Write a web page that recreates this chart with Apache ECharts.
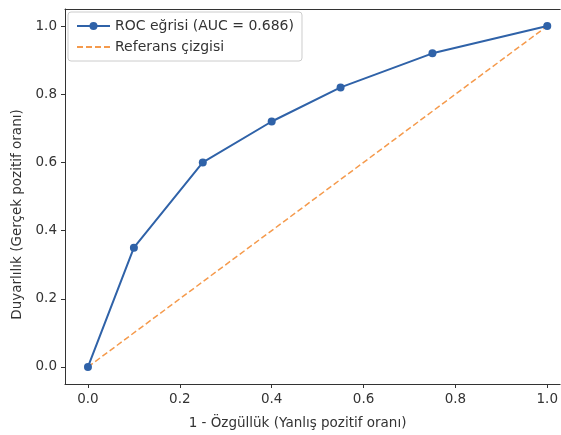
<!DOCTYPE html>
<html><head><meta charset="utf-8">
<script src="https://cdn.jsdelivr.net/npm/echarts@6/dist/echarts.min.js"></script>
<style>html,body{margin:0;padding:0;background:#fff}#c{width:561px;height:435px}</style>
</head><body><div id="c"></div>
<script>
const fpr = [0, 0.1, 0.25, 0.4, 0.55, 0.75, 1.0];
const tpr = [0, 0.35, 0.6, 0.72, 0.82, 0.92, 1.0];
const refX = [0, 1];
const refY = [0, 1];
const tickVals = [0, 0.2, 0.4, 0.6, 0.8, 1.0];
const rocName = 'ROC eğrisi (AUC = 0.686)';
const refName = 'Referans çizgisi';
const xTitle = '1 - Özgüllük (Yanlış pozitif oranı)';
const yTitle = 'Duyarlılık (Gerçek pozitif oranı)';

const font = 'DejaVu Sans';
const fs = 13.5;
const chart = echarts.init(document.getElementById('c'), null, {renderer: 'canvas'});
const axisCommon = {
  type: 'value', min: -0.05, max: 1.05,
  splitLine: {show: false},
  axisLine: {show: true, onZero: false, lineStyle: {color: '#333', width: 1}},
  axisTick: {show: true, length: 4, inside: false, customValues: tickVals, lineStyle: {color: '#333'}},
  axisLabel: {customValues: tickVals, color: '#333', fontFamily: font, fontSize: fs,
    formatter: v => v.toFixed(1)},
  nameLocation: 'middle',
  nameTextStyle: {color: '#333', fontFamily: font, fontSize: fs}
};
chart.setOption({
  animation: false,
  grid: {left: 65, top: 9, right: 0, height: 375},
  xAxis: [
    Object.assign({}, axisCommon, {max: 1.028, name: xTitle, nameGap: 32,
      nameTextStyle: {color: '#333', fontFamily: font, fontSize: fs, padding: [0, 30, 0, 0]},
      axisLabel: Object.assign({}, axisCommon.axisLabel, {margin: 8})}),
    {type: 'value', position: 'top', min: -0.05, max: 1.028,
      axisLine: {show: true, onZero: false, lineStyle: {color: '#333', width: 1}},
      axisTick: {show: false}, axisLabel: {show: false}, splitLine: {show: false}}
  ],
  yAxis: Object.assign({}, axisCommon, {name: yTitle, nameGap: 41,
    nameTextStyle: {color: '#333', fontFamily: font, fontSize: fs, padding: [0, 36, 0, 0]},
    axisLabel: Object.assign({}, axisCommon.axisLabel, {margin: 8})}),
  legend: {
    left: 68, top: 12, orient: 'vertical', itemGap: 7, itemWidth: 33, itemHeight: 10,
    padding: [7, 8, 7, 8], borderColor: '#ccc', borderWidth: 1, borderRadius: 3,
    backgroundColor: 'rgba(255,255,255,0.8)',
    textStyle: {color: '#333', fontFamily: font, fontSize: 14},
    data: [rocName, {name: refName, itemStyle: {opacity: 0}}]
  },
  series: [
    {name: rocName, type: 'line', data: fpr.map((x, i) => [x, tpr[i]]),
      symbol: 'circle', symbolSize: 8,
      lineStyle: {color: '#2f62a8', width: 2}, itemStyle: {color: '#2f62a8'}, z: 3},
    {name: refName, type: 'line', data: refX.map((x, i) => [x, refY[i]]),
      symbol: 'none', lineStyle: {color: '#f59a4c', width: 1.5, type: [6, 3]},
      itemStyle: {color: '#f59a4c'}, z: 2}
  ]
});
</script></body></html>
